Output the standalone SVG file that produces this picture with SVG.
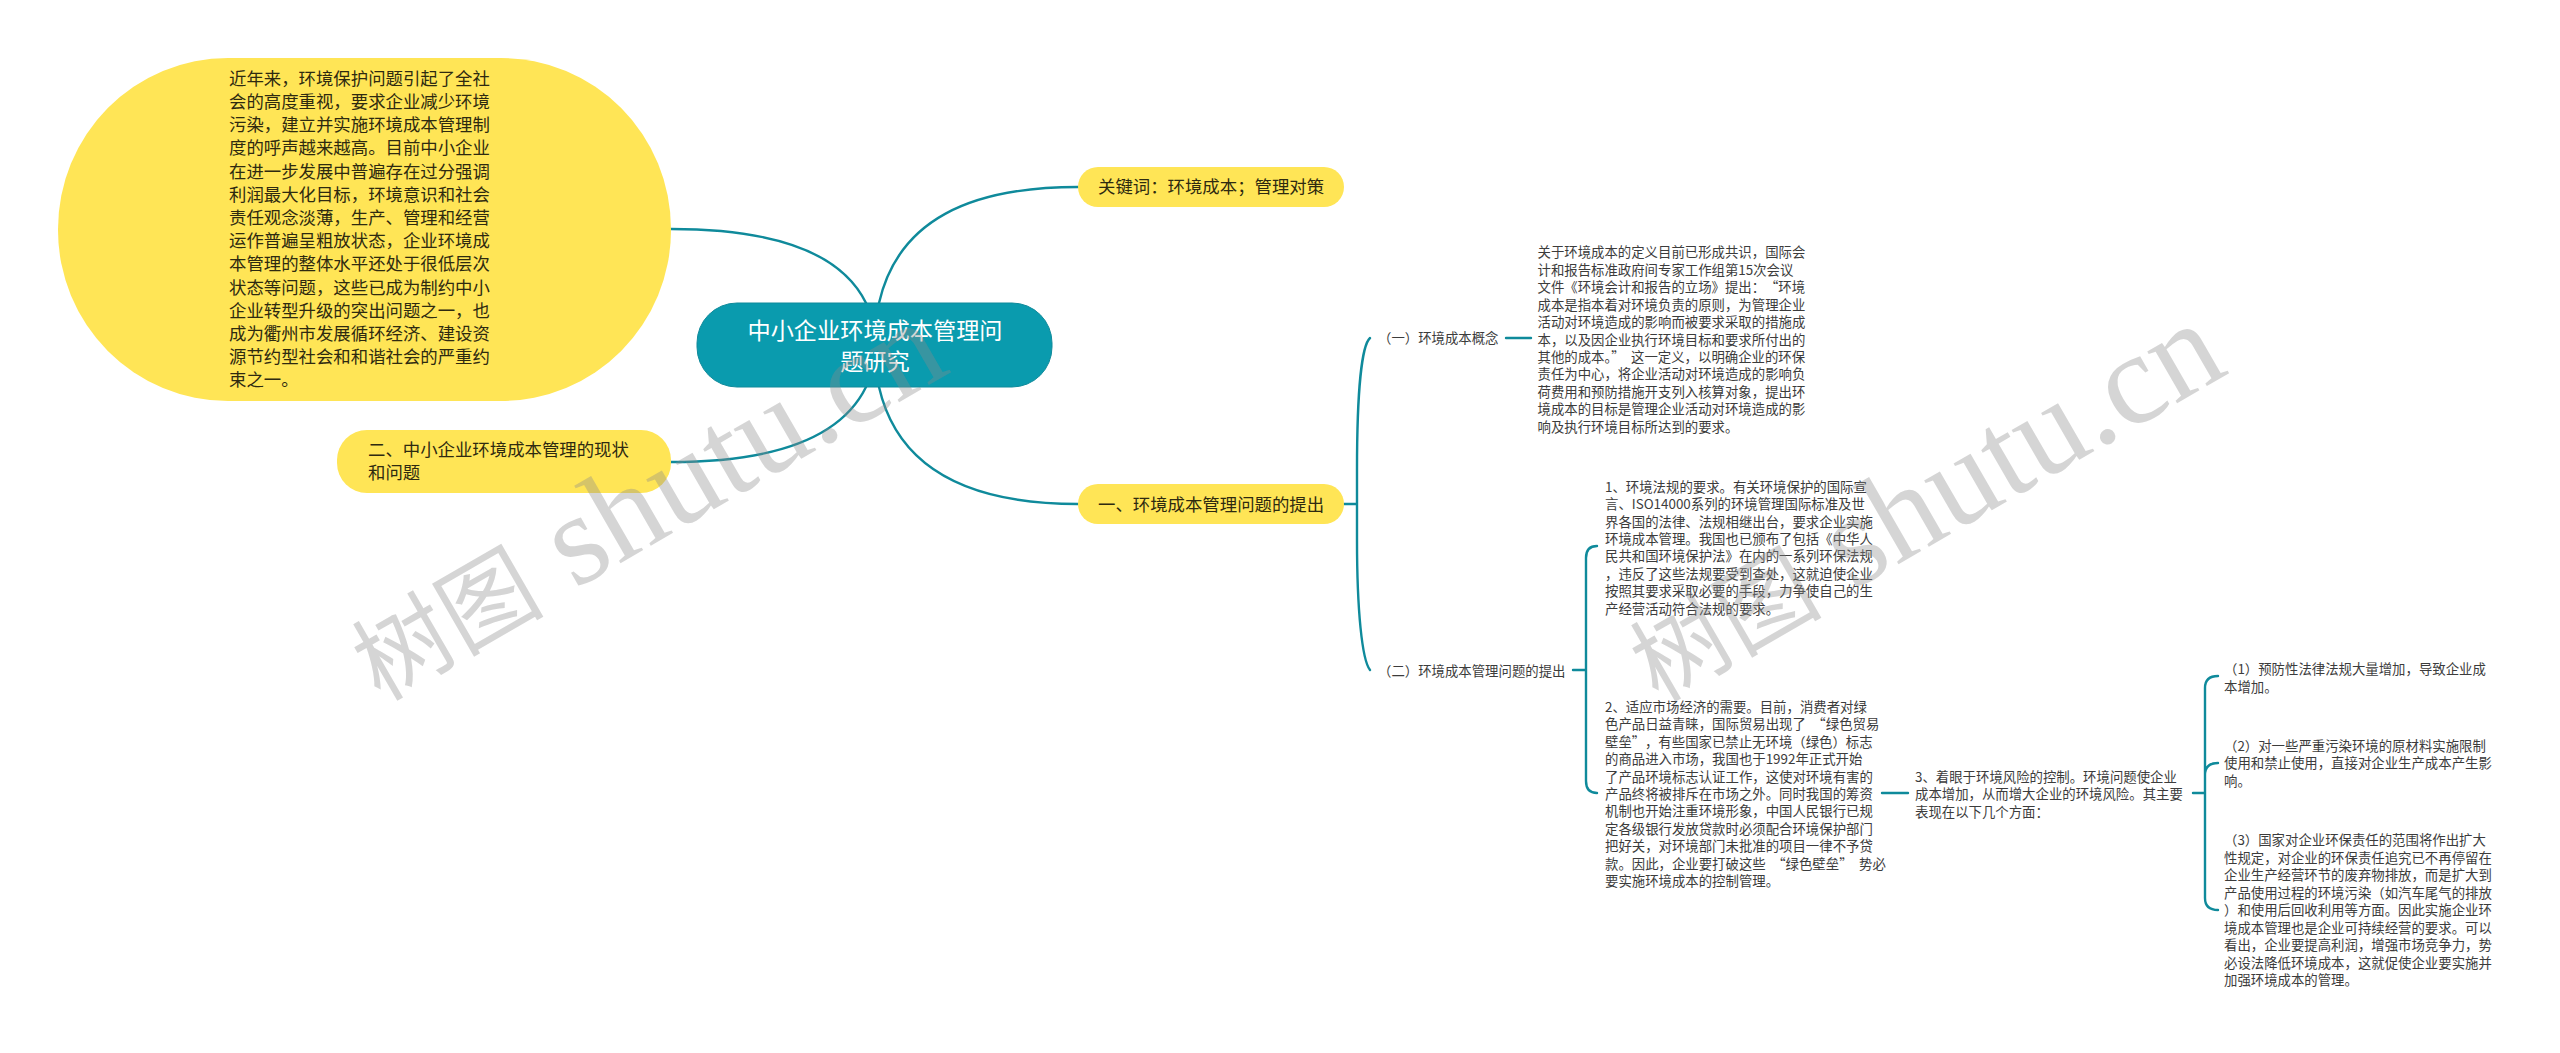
<svg xmlns="http://www.w3.org/2000/svg" width="2560" height="1053" viewBox="0 0 2560 1053" xml:lang="zh-CN">
<style>
text{font-family:"Noto Sans CJK SC","Noto Sans",sans-serif}
.y{fill:#ffe556}
.t{font-size:17.4px;fill:#2e2a10}
.s{font-size:13.4px;fill:#3c3c3c}
.c{font-size:23.2px;fill:#fff;text-anchor:middle}
.l{fill:none;stroke:#0f8a9b;stroke-width:2.4;stroke-linecap:round}
.w{font-family:"Liberation Serif","Noto Sans CJK SC",serif;font-size:130px;fill:#8a8a8a;fill-opacity:.36}
.wc{font-family:"Noto Sans CJK SC",sans-serif;font-size:96px}
</style>
<rect width="2560" height="1053" fill="#fff"/>
<g id="connectors">
<path class="l" d="M671 229C770 229 840 250 866 303"/>
<path class="l" d="M879 303C898 220 970 187 1078 187"/>
<path class="l" d="M671 462C770 462 840 440 866 387"/>
<path class="l" d="M879 387C898 470 970 504 1078 504"/>
<path class="l" d="M1344 504H1357M1370 338C1362 345 1357 390 1357 470V540C1357 610 1362 660 1370 670"/>
<path class="l" d="M1506 338H1531"/>
<path class="l" d="M1573 670H1586M1597 546C1590 546 1586 550 1586 558V781C1586 789 1590 793 1597 793"/>
<path class="l" d="M1882 793H1908"/>
<path class="l" d="M2193 793H2205M2218 676C2210 676 2205 680 2205 688V898C2205 906 2210 910 2218 910M2218 763C2210 763 2205 767 2205 775"/>
</g>
<g id="node-center">
<rect x="697" y="303" width="355" height="84" rx="40" fill="#0a9bae" stroke="#0f8a9b"/>
<text class="c" x="875" y="338.500">中小企业环境成本管理问</text>
<text class="c" x="875" y="369.500">题研究</text>
</g>
<g id="node-intro">
<rect class="y" x="58" y="58" width="613" height="343" rx="170" ry="171"/>
<text class="t"><tspan x="229" y="84.700">近年来&#xFF0C;环境保护问题引起了全社</tspan><tspan x="229" y="107.900">会的高度重视&#xFF0C;要求企业减少环境</tspan><tspan x="229" y="131.100">污染&#xFF0C;建立并实施环境成本管理制</tspan><tspan x="229" y="154.300">度的呼声越来越高。目前中小企业</tspan><tspan x="229" y="177.500">在进一步发展中普遍存在过分强调</tspan><tspan x="229" y="200.700">利润最大化目标&#xFF0C;环境意识和社会</tspan><tspan x="229" y="223.900">责任观念淡薄&#xFF0C;生产、管理和经营</tspan><tspan x="229" y="247.100">运作普遍呈粗放状态&#xFF0C;企业环境成</tspan><tspan x="229" y="270.300">本管理的整体水平还处于很低层次</tspan><tspan x="229" y="293.500">状态等问题&#xFF0C;这些已成为制约中小</tspan><tspan x="229" y="316.700">企业转型升级的突出问题之一&#xFF0C;也</tspan><tspan x="229" y="339.900">成为衢州市发展循环经济、建设资</tspan><tspan x="229" y="363.100">源节约型社会和和谐社会的严重约</tspan><tspan x="229" y="386.300">束之一。</tspan></text>
</g>
<g id="node-status">
<rect class="y" x="337" y="430" width="334" height="63" rx="30"/>
<text class="t"><tspan x="368" y="456.400">二、中小企业环境成本管理的现状</tspan><tspan x="368" y="479.400">和问题</tspan></text>
</g>
<g id="node-keywords">
<rect class="y" x="1078" y="167" width="266" height="40" rx="20"/>
<text class="t" x="1098" y="193.400">关键词&#xFF1A;环境成本&#xFF1B;管理对策</text>
</g>
<g id="node-one">
<rect class="y" x="1078" y="484" width="266" height="40" rx="20"/>
<text class="t" x="1098" y="510.900">一、环境成本管理问题的提出</text>
</g>
<g id="node-concept"><text class="s" x="1378" y="343">&#xFF08;一&#xFF09;环境成本概念</text></g>
<g id="node-concept-text">
<text class="s"><tspan x="1537.500" y="257.300">关于环境成本的定义目前已形成共识&#xFF0C;国际会</tspan><tspan x="1537.500" y="274.750">计和报告标准政府间专家工作组第15次会议</tspan><tspan x="1537.500" y="292.200">文件《环境会计和报告的立场》提出&#xFF1A;<tspan dx="6.500">“环境</tspan></tspan><tspan x="1537.500" y="309.650">成本是指本着对环境负责的原则&#xFF0C;为管理企业</tspan><tspan x="1537.500" y="327.100">活动对环境造成的影响而被要求采取的措施成</tspan><tspan x="1537.500" y="344.550">本&#xFF0C;以及因企业执行环境目标和要求所付出的</tspan><tspan x="1537.500" y="362">其他的成本。”<tspan dx="6.500">这一定义&#xFF0C;以明确企业的环保</tspan></tspan><tspan x="1537.500" y="379.450">责任为中心&#xFF0C;将企业活动对环境造成的影响负</tspan><tspan x="1537.500" y="396.900">荷费用和预防措施开支列入核算对象&#xFF0C;提出环</tspan><tspan x="1537.500" y="414.350">境成本的目标是管理企业活动对环境造成的影</tspan><tspan x="1537.500" y="431.800">响及执行环境目标所达到的要求。</tspan></text>
</g>
<g id="node-problem"><text class="s" x="1378" y="676">&#xFF08;二&#xFF09;环境成本管理问题的提出</text></g>
<g id="node-p1">
<text class="s"><tspan x="1605" y="491.700">1、环境法规的要求。有关环境保护的国际宣</tspan><tspan x="1605" y="509.100">言、ISO14000系列的环境管理国际标准及世</tspan><tspan x="1605" y="526.500">界各国的法律、法规相继出台&#xFF0C;要求企业实施</tspan><tspan x="1605" y="543.900">环境成本管理。我国也已颁布了包括《中华人</tspan><tspan x="1605" y="561.300">民共和国环境保护法》在内的一系列环保法规</tspan><tspan x="1605" y="578.700">&#xFF0C;违反了这些法规要受到查处&#xFF0C;这就迫使企业</tspan><tspan x="1605" y="596.100">按照其要求采取必要的手段&#xFF0C;力争使自己的生</tspan><tspan x="1605" y="613.500">产经营活动符合法规的要求。</tspan></text>
</g>
<g id="node-p2">
<text class="s"><tspan x="1605" y="711.700">2、适应市场经济的需要。目前&#xFF0C;消费者对绿</tspan><tspan x="1605" y="729.150">色产品日益青睐&#xFF0C;国际贸易出现了<tspan dx="6.500">“绿色贸易</tspan></tspan><tspan x="1605" y="746.600">壁垒”<tspan dx="6.500">&#xFF0C;有些国家已禁止无环境&#xFF08;绿色&#xFF09;标志</tspan></tspan><tspan x="1605" y="764.050">的商品进入市场&#xFF0C;我国也于1992年正式开始</tspan><tspan x="1605" y="781.500">了产品环境标志认证工作&#xFF0C;这使对环境有害的</tspan><tspan x="1605" y="798.950">产品终将被排斥在市场之外。同时我国的筹资</tspan><tspan x="1605" y="816.400">机制也开始注重环境形象&#xFF0C;中国人民银行已规</tspan><tspan x="1605" y="833.850">定各级银行发放贷款时必须配合环境保护部门</tspan><tspan x="1605" y="851.300">把好关&#xFF0C;对环境部门未批准的项目一律不予贷</tspan><tspan x="1605" y="868.750">款。因此&#xFF0C;企业要打破这些<tspan dx="6.500">“绿色壁垒”</tspan><tspan dx="6.500">势必</tspan></tspan><tspan x="1605" y="886.200">要实施环境成本的控制管理。</tspan></text>
</g>
<g id="node-p3">
<text class="s"><tspan x="1915" y="781.700">3、着眼于环境风险的控制。环境问题使企业</tspan><tspan x="1915" y="799.200">成本增加&#xFF0C;从而增大企业的环境风险。其主要</tspan><tspan x="1915" y="816.700">表现在以下几个方面&#xFF1A;</tspan></text>
</g>
<g id="node-q1">
<text class="s"><tspan x="2224" y="674">&#xFF08;1&#xFF09;预防性法律法规大量增加&#xFF0C;导致企业成</tspan><tspan x="2224" y="691.500">本增加。</tspan></text>
</g>
<g id="node-q2">
<text class="s"><tspan x="2224" y="750.700">&#xFF08;2&#xFF09;对一些严重污染环境的原材料实施限制</tspan><tspan x="2224" y="768.200">使用和禁止使用&#xFF0C;直接对企业生产成本产生影</tspan><tspan x="2224" y="785.700">响。</tspan></text>
</g>
<g id="node-q3">
<text class="s"><tspan x="2224" y="845">&#xFF08;3&#xFF09;国家对企业环保责任的范围将作出扩大</tspan><tspan x="2224" y="862.500">性规定&#xFF0C;对企业的环保责任追究已不再停留在</tspan><tspan x="2224" y="880">企业生产经营环节的废弃物排放&#xFF0C;而是扩大到</tspan><tspan x="2224" y="897.500">产品使用过程的环境污染&#xFF08;如汽车尾气的排放</tspan><tspan x="2224" y="915">&#xFF09;和使用后回收利用等方面。因此实施企业环</tspan><tspan x="2224" y="932.500">境成本管理也是企业可持续经营的要求。可以</tspan><tspan x="2224" y="950">看出&#xFF0C;企业要提高利润&#xFF0C;增强市场竞争力&#xFF0C;势</tspan><tspan x="2224" y="967.500">必设法降低环境成本&#xFF0C;这就促使企业要实施并</tspan><tspan x="2224" y="985">加强环境成本的管理。</tspan></text>
</g>
<g id="watermark">
<text class="w" transform="translate(380 702) rotate(-30)"><tspan class="wc">树图</tspan> shutu.cn</text>
<text class="w" transform="translate(1658 703) rotate(-30)"><tspan class="wc">树图</tspan> shutu.cn</text>
</g>
</svg>
